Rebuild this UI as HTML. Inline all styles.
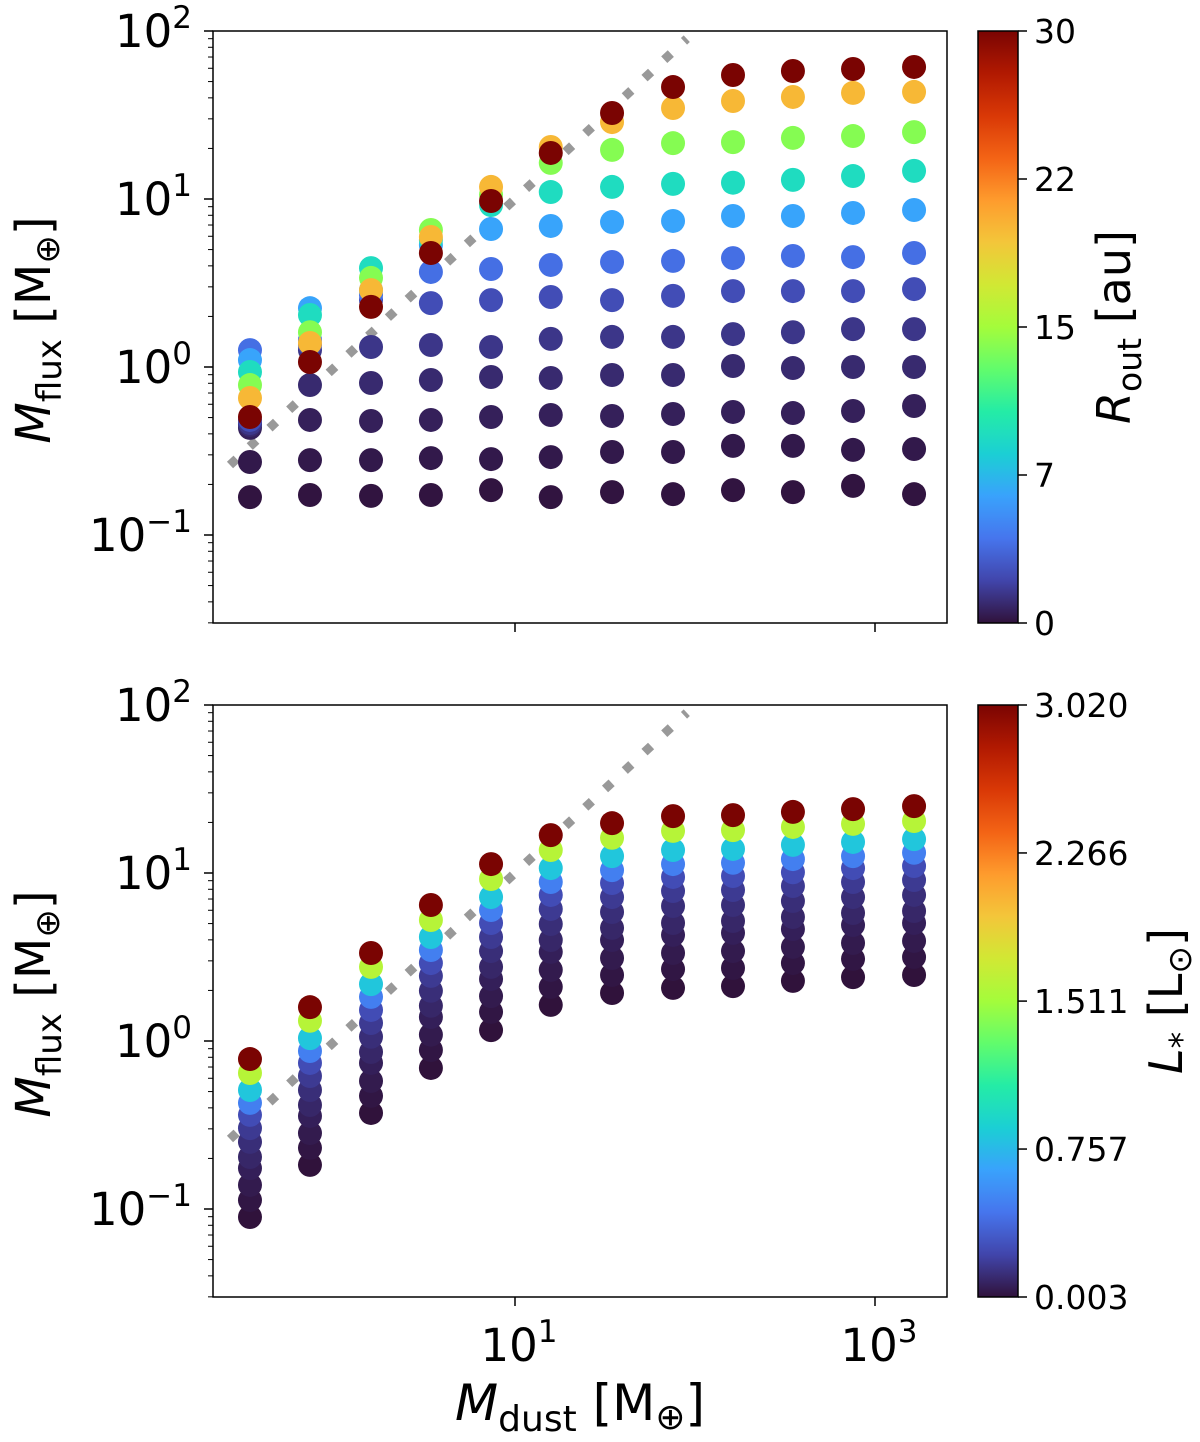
<!DOCTYPE html>
<html><head><meta charset="utf-8"><style>
html,body{margin:0;padding:0;background:#fff;}
svg{display:block;font-family:"DejaVu Sans","Liberation Sans",sans-serif;}
</style></head><body>
<svg id="fig" width="1200" height="1442" viewBox="0 0 1200 1442" xmlns="http://www.w3.org/2000/svg">
<defs>
<linearGradient id="gradTop" x1="0" y1="1" x2="0" y2="0"></linearGradient>
<linearGradient id="gradBot" x1="0" y1="1" x2="0" y2="0"></linearGradient>
</defs>
<g id="top"></g>
<g id="bot"></g>
<rect x="978" y="31" width="40" height="592" fill="url(#gradTop)" stroke="#000" stroke-width="1.5"/>
<rect x="978" y="705" width="40" height="592" fill="url(#gradBot)" stroke="#000" stroke-width="1.5"/>
<g id="cbt"></g>
<text transform="translate(1130,327) rotate(-90)" text-anchor="middle" font-size="46"><tspan font-style="italic">R</tspan><tspan font-size="33" dy="11">out</tspan><tspan dy="-11"> [au]</tspan></text>
<text transform="translate(1182,1001) rotate(-90)" text-anchor="middle" font-size="46"><tspan font-style="italic">L</tspan><tspan font-size="33" dy="11">*</tspan><tspan dy="-11"> [L</tspan><tspan font-size="33" dy="9">⊙</tspan><tspan dy="-9">]</tspan></text>
<text transform="translate(50,330) rotate(-90)" text-anchor="middle" font-size="48"><tspan font-style="italic">M</tspan><tspan font-size="34" dy="11">flux</tspan><tspan dy="-11"> [M</tspan><tspan font-size="34" dy="9">⊕</tspan><tspan dy="-9">]</tspan></text>
<text transform="translate(50,1004) rotate(-90)" text-anchor="middle" font-size="48"><tspan font-style="italic">M</tspan><tspan font-size="34" dy="11">flux</tspan><tspan dy="-11"> [M</tspan><tspan font-size="34" dy="9">⊕</tspan><tspan dy="-9">]</tspan></text>
<text x="580" y="1420" text-anchor="middle" font-size="50"><tspan font-style="italic">M</tspan><tspan font-size="36" dy="11">dust</tspan><tspan dy="-11"> [M</tspan><tspan font-size="36" dy="9">⊕</tspan><tspan dy="-9">]</tspan></text>
</svg>
<script>
const mdust = [0.337, 0.726, 1.585, 3.41, 7.36, 15.8, 34.6, 75.5, 162.6, 350, 755, 1648];
const routValues = [0.1, 0.3, 0.6, 1, 1.5, 2.5, 4, 6.5, 9.5, 14, 20, 30];
const topFlux = [
[0.168,0.173,0.171,0.173,0.185,0.168,0.180,0.175,0.185,0.180,0.196,0.175],
[0.272,0.279,0.279,0.287,0.283,0.291,0.312,0.312,0.339,0.339,0.321,0.325],
[0.434,0.484,0.477,0.484,0.504,0.518,0.511,0.525,0.540,0.532,0.547,0.586],
[0.452,0.781,0.803,0.837,0.872,0.860,0.896,0.896,1.014,0.986,1.0,1.0],
[0.464,1.26,1.315,1.352,1.315,1.47,1.51,1.51,1.57,1.61,1.68,1.68],
[0.484,1.352,2.50,2.40,2.50,2.61,2.50,2.65,2.83,2.83,2.83,2.91],
[1.26,1.45,2.68,3.68,3.83,4.05,4.22,4.28,4.45,4.58,4.51,4.77],
[1.10,2.24,2.87,5.32,6.63,6.91,7.29,7.40,7.92,7.92,8.26,8.60],
[0.934,2.04,3.88,5.70,9.21,11.0,11.8,12.3,12.5,13.0,13.7,14.7],
[0.781,1.61,3.39,6.54,10.6,16.4,19.6,21.5,21.8,23.1,23.7,25.0],
[0.654,1.39,2.87,5.94,11.8,20.4,28.7,34.8,38.3,40.5,42.8,43.4],
[0.504,1.071,2.28,4.77,9.73,18.8,32.5,46.4,54.7,57.8,59.4,61.1]];
const lstarValues = [0.003, 0.02, 0.04, 0.06, 0.09, 0.12, 0.17, 0.25, 0.48, 0.82, 1.6, 3.02];
const botFlux = [
[0.0896,0.183,0.373,0.691,1.16,1.64,1.93,2.07,2.12,2.28,2.40,2.47],
[0.113,0.231,0.471,0.884,1.49,2.10,2.47,2.68,2.72,2.91,3.08,3.16],
[0.139,0.283,0.578,1.09,1.85,2.65,3.12,3.34,3.43,3.63,3.83,3.94],
[0.175,0.358,0.740,1.39,2.34,3.39,3.99,4.28,4.40,4.64,4.90,5.04],
[0.204,0.416,0.860,1.62,2.76,3.99,4.71,5.04,5.18,5.47,5.78,5.94],
[0.251,0.511,1.06,1.99,3.43,4.97,5.86,6.36,6.45,6.81,7.19,7.40],
[0.303,0.619,1.28,2.44,4.16,6.11,7.19,7.81,7.92,8.37,8.84,9.08],
[0.363,0.740,1.53,2.91,5.04,7.40,8.72,9.47,9.60,10.1,10.7,11.0],
[0.428,0.872,1.83,3.48,6.02,8.84,10.4,11.3,11.5,12.1,12.6,13.2],
[0.511,1.04,2.18,4.16,7.19,10.7,12.6,13.7,13.9,14.7,15.3,15.9],
[0.645,1.32,2.76,5.25,9.21,13.7,16.2,17.8,18.0,18.8,19.6,20.4],
[0.781,1.59,3.34,6.45,11.3,16.8,19.8,21.8,22.1,23.1,24.0,25.0]];
const refLine = [0.261, 90];
const yTickExps = [-1, 0, 1, 2];
const xTickExps = [1, 3];
const routTicks = [0, 7.5, 15, 22.5, 30];
const routTickLabels = ["0", "7", "15", "22", "30"];
const lstarTicks = [0.003, 0.757, 1.511, 2.266, 3.020];
const lstarTickLabels = ["0.003", "0.757", "1.511", "2.266", "3.020"];

const NS = "http://www.w3.org/2000/svg";
const X0 = 213, X1 = 947;
const XL0 = -0.6778, XL1 = 3.4;
function xs(v){ return X0 + (Math.log10(v) - XL0) / (XL1 - XL0) * (X1 - X0); }
function ysFor(top){ return v => top + (2 - Math.log10(v)) * 168; }
const TURBO = [[48,18,59],[65,69,171],[70,117,237],[57,162,252],[27,207,212],[36,236,166],[97,252,108],[164,252,59],[209,232,52],[243,198,58],[254,155,45],[243,99,21],[217,56,6],[177,25,1],[122,4,2]];
function turbo(t){
  t = Math.max(0, Math.min(1, t));
  const p = t * (TURBO.length - 1);
  const i = Math.min(TURBO.length - 2, Math.floor(p));
  const f = p - i;
  const a = TURBO[i], b = TURBO[i+1];
  return "rgb(" + [0,1,2].map(k => Math.round(a[k] + (b[k]-a[k])*f)).join(",") + ")";
}
function mk(tag, attrs, parent){
  const e = document.createElementNS(NS, tag);
  for (const k in attrs) e.setAttribute(k, attrs[k]);
  parent.appendChild(e);
  return e;
}
function tenLabel(parent, x, y, exp, anchor){
  const t = mk("text", {x: x, y: y, "font-size": 45, "text-anchor": anchor}, parent);
  
  
  const a = document.createElementNS(NS, "tspan"); a.textContent = "10"; t.appendChild(a);
  const b = document.createElementNS(NS, "tspan");
  b.setAttribute("font-size", "31"); b.setAttribute("dy", "-19");
  b.textContent = exp < 0 ? "\u2212" + (-exp) : String(exp); t.appendChild(b);
}
function panel(g, top, series, cvals, cmin, cmax, showXLabels){
  const ys = ysFor(top);
  const bottom = top + 592;
  const ln = mk("line", {x1: xs(refLine[0]), y1: ys(refLine[0]), x2: xs(refLine[1]), y2: ys(refLine[1]),
    stroke: "#999", "stroke-width": 9, "stroke-dasharray": "9 18"}, g);
  
  
  series.forEach((row, i) => {
    const col = turbo((cvals[i] - cmin) / (cmax - cmin));
    row.forEach((v, j) => {
      const c = mk("circle", {cx: xs(mdust[j]), cy: ys(v), r: 12, fill: col}, g);
      
      
    });
  });
  const fr = mk("rect", {x: X0, y: top, width: X1 - X0, height: 592, fill: "none", stroke: "#000", "stroke-width": 1.5}, g);
  
  
  for (let e = -2; e <= 2; e++){
    for (let m = 1; m < 10; m++){
      const v = m * Math.pow(10, e);
      const y = ys(v);
      if (y < top - 0.5 || y > bottom + 0.5) continue;
      const len = m === 1 ? 9 : 5;
      const tk = mk("line", {x1: X0 - len, x2: X0, y1: y, y2: y, stroke: "#000", "stroke-width": m === 1 ? 1.5 : 1}, g);
      
      
    }
  }
  yTickExps.forEach(e => tenLabel(g, 192, ys(Math.pow(10, e)) + 16, e, "end"));
  xTickExps.forEach(e => {
    const x = xs(Math.pow(10, e));
    const tk = mk("line", {x1: x, x2: x, y1: bottom, y2: bottom + 9, stroke: "#000", "stroke-width": 1.5}, g);
    
    
    if (showXLabels) tenLabel(g, x + 4, bottom + 64, e, "middle");
  });
}
panel(document.getElementById("top"), 31, topFlux, routValues, 0, 30, false);
panel(document.getElementById("bot"), 705, botFlux, lstarValues, 0.003, 3.02, true);

function grad(id){
  const gr = document.getElementById(id);
  for (let i = 0; i <= 28; i++){
    mk("stop", {offset: (i/28*100) + "%", "stop-color": turbo(i/28)}, gr);
  }
}
grad("gradTop"); grad("gradBot");
const cbt = document.getElementById("cbt");
function cbTicks(top, ticks, labels, vmin, vmax){
  ticks.forEach((v, i) => {
    const y = top + 592 - (v - vmin) / (vmax - vmin) * 592;
    const tk = mk("line", {x1: 1018, x2: 1027, y1: y, y2: y, stroke: "#000", "stroke-width": 1.5}, cbt);
    
    
    const t = mk("text", {x: 1034, y: y + 12, "font-size": 33}, cbt);
    
    
    t.textContent = labels[i];
  });
}
cbTicks(31, routTicks, routTickLabels, 0, 30);
cbTicks(705, lstarTicks, lstarTickLabels, 0.003, 3.02);
</script>
</body></html>
